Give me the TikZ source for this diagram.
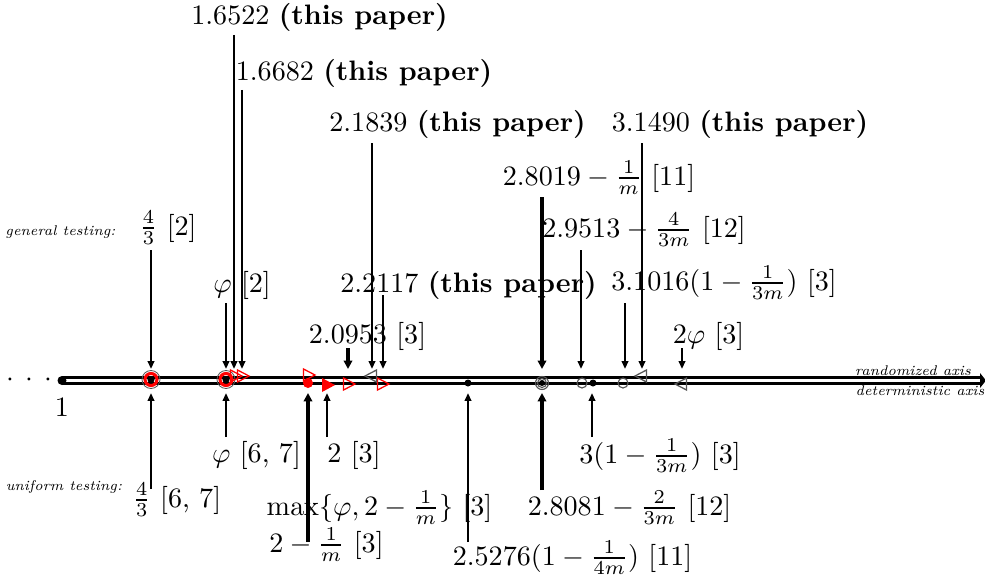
\documentclass[tikz,border=0pt]{standalone}
\usepackage{amsmath,amssymb}
\usepackage{xcolor}
\usepackage{tikz}
\usetikzlibrary{arrows.meta,calc}
\definecolor{mkGray}{HTML}{555555}
\definecolor{mkRed}{HTML}{FF0000}

\begin{document}
\begin{tikzpicture}[x=0.3556pt,y=-0.3556pt,>={Triangle[length=2.8pt,width=2.3pt]},
  lbl/.style={anchor=base,inner sep=0pt},
  note/.style={font=\tiny\itshape,inner sep=0pt},
  gen/.style={line width=0.7pt,->},
  genb/.style={line width=1.4pt,-{Triangle[length=3pt,width=3pt]}},
  rtri/.pic={\draw[mkRed,line width=0.45pt] (-5.5,-6) -- (6,0) -- (-5.5,6) -- cycle;},
  ltri/.pic={\draw[mkGray,line width=0.45pt] (5.5,-6) -- (-6,0) -- (5.5,6) -- cycle;}]
\useasboundingbox (0,0) rectangle (985,580);
\coordinate (one) at (62,380.5);
\coordinate (end) at (981,380.5);
\draw[line width=0.85pt,double distance=1.4pt] (one) -- (end);
\fill (980,373) -- (986,380.5) -- (980,388) -- cycle;
\fill (one) circle[radius=4.5];
\node[lbl] (lone) at (62,416) {1};
\node[inner sep=0pt] (dots) at (29,380) {$\cdot$\hspace{4pt}$\cdot$\hspace{4pt}$\cdot$};
\node[note] (gt) at (60.5,232) {general testing:};
\node[note] (ut) at (64,487) {uniform testing:};
\node[note] (ra) at (913,371) {randomized axis};
\node[note] (da) at (920,391) {deterministic axis};

\node[lbl] (g1) at (168,235) {$\frac{4}{3}$ [2]};
\node[lbl] (g2) at (242,292) {$\varphi$ [2]};
\node[lbl] (g3) at (319.5,25) {1.6522 \textbf{(this paper)}};
\node[lbl] (g4) at (364,80) {1.6682 \textbf{(this paper)}};
\node[lbl] (g5) at (367.5,343) {2.0953 [3]};
\node[lbl] (g6) at (457.5,132) {2.1839 \textbf{(this paper)}};
\node[lbl] (g7) at (468.5,292) {2.2117 \textbf{(this paper)}};
\node[lbl] (g8) at (599,185) {$2.8019-\frac{1}{m}$ [11]};
\node[lbl] (g9) at (644,237) {$2.9513-\frac{4}{3m}$ [12]};
\node[lbl] (g10) at (724,290) {$3.1016(1-\frac{1}{3m})$ [3]};
\node[lbl] (g11) at (740,132) {3.1490 \textbf{(this paper)}};
\node[lbl] (g12) at (708.5,343) {$2\varphi$ [3]};

\node[lbl] (h1) at (177,507) {$\frac{4}{3}$ [6, 7]};
\node[lbl] (h2) at (256.5,462) {$\varphi$ [6, 7]};
\node[lbl] (h3) at (354,462) {2 [3]};
\node[lbl] (h4) at (379.5,515) {$\max\{\varphi,2-\frac{1}{m}\}$ [3]};
\node[lbl] (h5) at (326.5,552) {$2-\frac{1}{m}$ [3]};
\node[lbl] (h6) at (572.5,565) {$2.5276(1-\frac{1}{4m})$ [11]};
\node[lbl] (h7) at (629.5,515) {$2.8081-\frac{2}{3m}$ [12]};
\node[lbl] (h8) at (660,463) {$3(1-\frac{1}{3m})$ [3]};

\foreach \i/\x/\o/\s in {1/151/15/gen,2/226/11/gen,3/234/10/gen,4/242/10/gen,5/348/5/genb,6/372/11/gen,
  7/383/3/gen,8/542/12/genb,9/581/13/gen,10/625/13/gen,11/642/11/gen,12/682/5/gen}{
  \coordinate (a\i) at (\x,369);
  \draw[\s] ($(g\i.base -| a\i)+(0,\o)$) -- (a\i);}
\foreach \i/\x/\o/\s in {1/151/-18/gen,2/226/-25/gen,3/327/-25/gen,5/308/-10/genb,6/468/-23/gen,
  7/542/-25/genb,8/592/-26/gen}{
  \coordinate (b\i) at (\x,393);
  \draw[\s] ($(h\i.base -| b\i)+(0,\o)$) -- (b\i);}

\foreach \x in {151,226}{
  \draw[mkGray,line width=0.3pt] (\x,379.5) circle[radius=9];
  \draw[mkRed,line width=1.1pt] (\x,379.5) circle[radius=6];
  \fill (\x,379.5) circle[radius=3.6];}
\pic at (236,376) {rtri};
\pic at (243,376) {rtri};
\pic at (309,375) {rtri};
\fill[mkRed] (308,383) circle[radius=5];
\fill[mkRed] (322,378) -- (335,385) -- (322,392) -- cycle;
\pic at (349,384) {rtri};
\pic at (383,384) {rtri};
\pic at (371,376) {ltri};
\pic at (641,376) {ltri};
\pic at (681,384) {ltri};
\fill (468,383) circle[radius=3.5];
\draw[mkGray,line width=0.4pt] (542,383) circle[radius=6.5] (542,383) circle[radius=4.5];
\fill (542,383) circle[radius=3];
\draw[mkGray,line width=0.4pt] (582,383) circle[radius=5] (623,383) circle[radius=5];
\fill (593,383) circle[radius=3.5];
\end{tikzpicture}
\end{document}
